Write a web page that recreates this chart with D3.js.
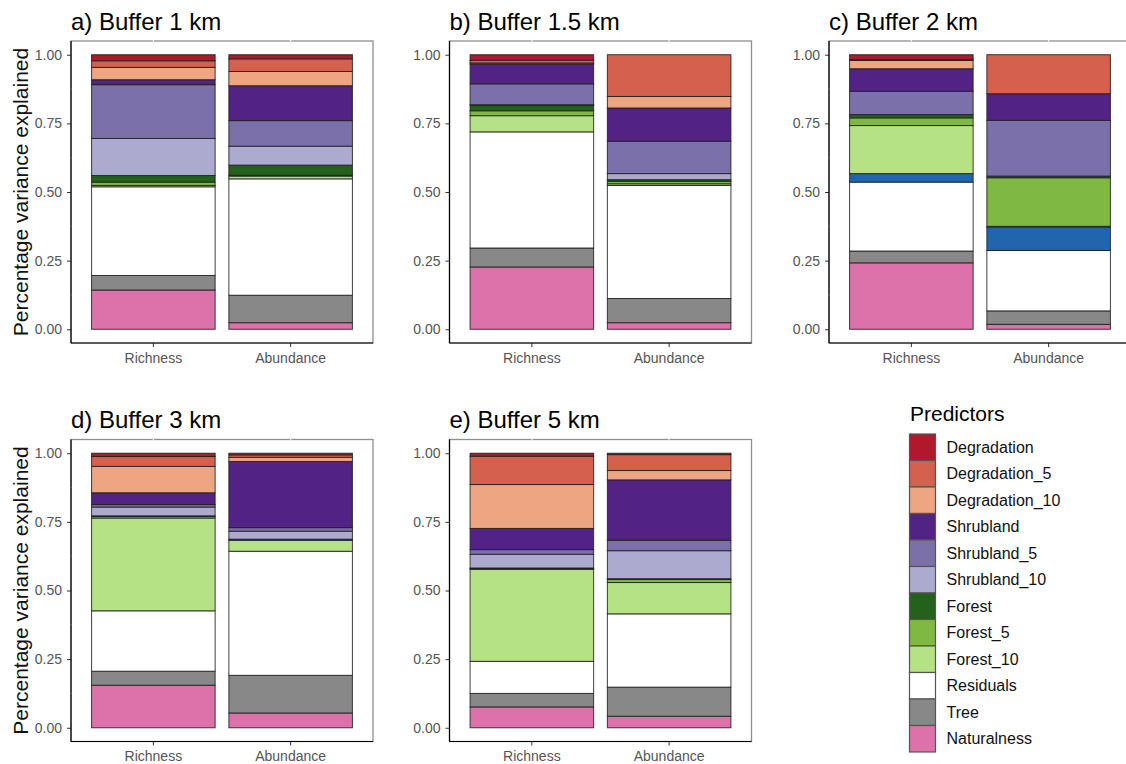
<!DOCTYPE html>
<html>
<head>
<meta charset="utf-8">
<script src="https://cdn.jsdelivr.net/npm/d3@7"></script>
<style>
  html, body { margin: 0; padding: 0; background: #ffffff; }
  svg { display: block; font-family: "Liberation Sans", Arial, sans-serif; }
</style>
</head>
<body>
<svg id="chart" width="1126" height="764"></svg>
<script>
// Predictors in stacking order, bottom to top
const predictors = ["Naturalness", "Tree", "Residuals", "Other", "Forest_10", "Forest_5", "Forest",
  "Shrubland_10", "Shrubland_5", "Shrubland", "Degradation_10", "Degradation_5", "Degradation"];
const predictorColors = ["#dc72a9", "#888888", "#ffffff", "#2166ac", "#b4e284", "#7fb842", "#24611a",
  "#adaad0", "#7b70a9", "#522384", "#eea581", "#d4604d", "#b2182b"];
// Legend entries, top to bottom
const legendKeys = ["Degradation", "Degradation_5", "Degradation_10", "Shrubland", "Shrubland_5",
  "Shrubland_10", "Forest", "Forest_5", "Forest_10", "Residuals", "Tree", "Naturalness"];

const responses = ["Richness", "Abundance"];
const panelTitles = ["a) Buffer 1 km", "b) Buffer 1.5 km", "c) Buffer 2 km", "d) Buffer 3 km", "e) Buffer 5 km"];
const yTicks = [0, 0.25, 0.5, 0.75, 1];

// Variance shares per buffer, one array per response, in predictor order
const buffer1Richness   = [0.143, 0.053, 0.323, 0.000, 0.005, 0.012, 0.024, 0.135, 0.196, 0.018, 0.045, 0.024, 0.022];
const buffer1Abundance  = [0.024, 0.100, 0.424, 0.000, 0.010, 0.003, 0.037, 0.069, 0.093, 0.127, 0.052, 0.046, 0.015];
const buffer15Richness  = [0.227, 0.069, 0.423, 0.000, 0.059, 0.018, 0.019, 0.003, 0.076, 0.072, 0.004, 0.010, 0.020];
const buffer15Abundance = [0.024, 0.088, 0.412, 0.000, 0.006, 0.009, 0.006, 0.022, 0.118, 0.121, 0.042, 0.152, 0.000];
const buffer2Richness   = [0.242, 0.043, 0.251, 0.031, 0.175, 0.028, 0.012, 0.000, 0.085, 0.082, 0.030, 0.003, 0.018];
const buffer2Abundance  = [0.018, 0.049, 0.220, 0.085, 0.003, 0.177, 0.006, 0.000, 0.203, 0.097, 0.000, 0.142, 0.000];
const buffer3Richness   = [0.155, 0.051, 0.220, 0.000, 0.338, 0.006, 0.002, 0.032, 0.009, 0.043, 0.096, 0.036, 0.012];
const buffer3Abundance  = [0.054, 0.137, 0.452, 0.000, 0.040, 0.002, 0.002, 0.029, 0.013, 0.241, 0.015, 0.009, 0.006];
const buffer5Richness   = [0.076, 0.049, 0.117, 0.000, 0.335, 0.003, 0.002, 0.050, 0.017, 0.077, 0.160, 0.103, 0.011];
const buffer5Abundance  = [0.042, 0.106, 0.267, 0.000, 0.114, 0.011, 0.003, 0.102, 0.038, 0.220, 0.034, 0.058, 0.005];

const panelData = [
  [buffer1Richness, buffer1Abundance],
  [buffer15Richness, buffer15Abundance],
  [buffer2Richness, buffer2Abundance],
  [buffer3Richness, buffer3Abundance],
  [buffer5Richness, buffer5Abundance]
];

// Panel frame positions
const panelW = 302, panelH = 302;
const panelOrigins = [[71, 41], [449.5, 41], [829, 41], [71, 439.5], [449.5, 439.5]];

const color = d3.scaleOrdinal().domain(predictors).range(predictorColors);
const svg = d3.select("#chart");

panelTitles.forEach((title, i) => {
  const [px, py] = panelOrigins[i];
  const g = svg.append("g").attr("transform", `translate(${px},${py})`);

  const x = d3.scaleBand().domain(responses).range([0, panelW]).paddingInner(0.1).paddingOuter(0.15);
  const y = d3.scaleLinear().domain([-0.05, 1.05]).range([panelH, 0]);

  // Rows for the stack: one per response
  const rows = responses.map((r, ri) => {
    const row = { response: r };
    predictors.forEach((p, pi) => { row[p] = panelData[i][ri][pi]; });
    return row;
  });
  const series = d3.stack().keys(predictors)(rows);

  // Panel border (grey), with white grid stubs crossing it
  g.append("rect").attr("x", 0).attr("y", 0).attr("width", panelW).attr("height", panelH)
    .attr("fill", "none").attr("stroke", "#8f8f8f").attr("stroke-width", 1.3);

  g.selectAll("line.gx").data(responses).join("line")
    .attr("x1", d => x(d) + x.bandwidth() / 2).attr("x2", d => x(d) + x.bandwidth() / 2)
    .attr("y1", -1.5).attr("y2", 1.5).attr("stroke", "#f4f4f4").attr("stroke-width", 1.2);
  g.selectAll("line.gy").data([0.125, 0.375, 0.625, 0.875]).join("line")
    .attr("x1", -1.5).attr("x2", 1.5).attr("y1", d => y(d)).attr("y2", d => y(d))
    .attr("stroke", "#f4f4f4").attr("stroke-width", 1.2);

  // Stacked bars
  g.append("g").selectAll("g").data(series).join("g")
    .attr("fill", d => color(d.key))
    .selectAll("rect").data(d => d).join("rect")
    .attr("x", d => x(d.data.response))
    .attr("width", x.bandwidth())
    .attr("y", d => y(d[1]))
    .attr("height", d => Math.max(0, y(d[0]) - y(d[1])))
    .attr("stroke", "#1e1e1e").attr("stroke-opacity", 0.85).attr("stroke-width", 1);

  // Axes
  const yAxis = g.append("g").call(d3.axisLeft(y).tickValues(yTicks).tickFormat(d3.format(".2f"))
    .tickSize(4).tickPadding(5));
  const xAxis = g.append("g").attr("transform", `translate(0,${panelH})`)
    .call(d3.axisBottom(x).tickSize(4).tickPadding(6));
  [yAxis, xAxis].forEach(ax => {
    ax.select(".domain").remove();
    ax.selectAll(".tick line").attr("stroke", "#333333");
    ax.selectAll(".tick text").attr("fill", "#555555").style("font-size", "14px")
      .style("font-family", "'Liberation Sans', Arial, sans-serif");
  });

  // Axis lines on left and bottom
  g.append("line").attr("x1", 0).attr("x2", 0).attr("y1", 0).attr("y2", panelH)
    .attr("stroke", "#000").attr("stroke-width", 1.2);
  g.append("line").attr("x1", 0).attr("x2", panelW).attr("y1", panelH).attr("y2", panelH)
    .attr("stroke", "#000").attr("stroke-width", 1.2);

  // Panel title
  g.append("text").attr("x", 0).attr("y", -11.5).text(title)
    .attr("fill", "#000").style("font-size", "24px");

  // Y-axis title on the left column only
  if (i === 0 || i === 3) {
    g.append("text")
      .attr("transform", `translate(${28 - px},${panelH / 2}) rotate(-90)`)
      .attr("text-anchor", "middle")
      .attr("fill", "#111").style("font-size", "21px")
      .text("Percentage variance explained");
  }
});

// Legend
const legend = svg.append("g").attr("transform", "translate(909,433.5)");
legend.append("text").attr("x", 1).attr("y", -12.5).text("Predictors")
  .attr("fill", "#000").style("font-size", "21px");
const keyH = 26.5, keyW = 26;
const rowsG = legend.selectAll("g.key").data(legendKeys).join("g")
  .attr("transform", (d, k) => `translate(0,${k * keyH})`);
rowsG.append("rect").attr("x", 0.5).attr("y", 0.5).attr("width", keyW).attr("height", keyH)
  .attr("fill", d => color(d)).attr("stroke", "#555").attr("stroke-width", 1.2);
rowsG.append("text").attr("x", 37.5).attr("y", keyH / 2 + 6).text(d => d)
  .attr("fill", "#111").style("font-size", "16px");
</script>
</body>
</html>
